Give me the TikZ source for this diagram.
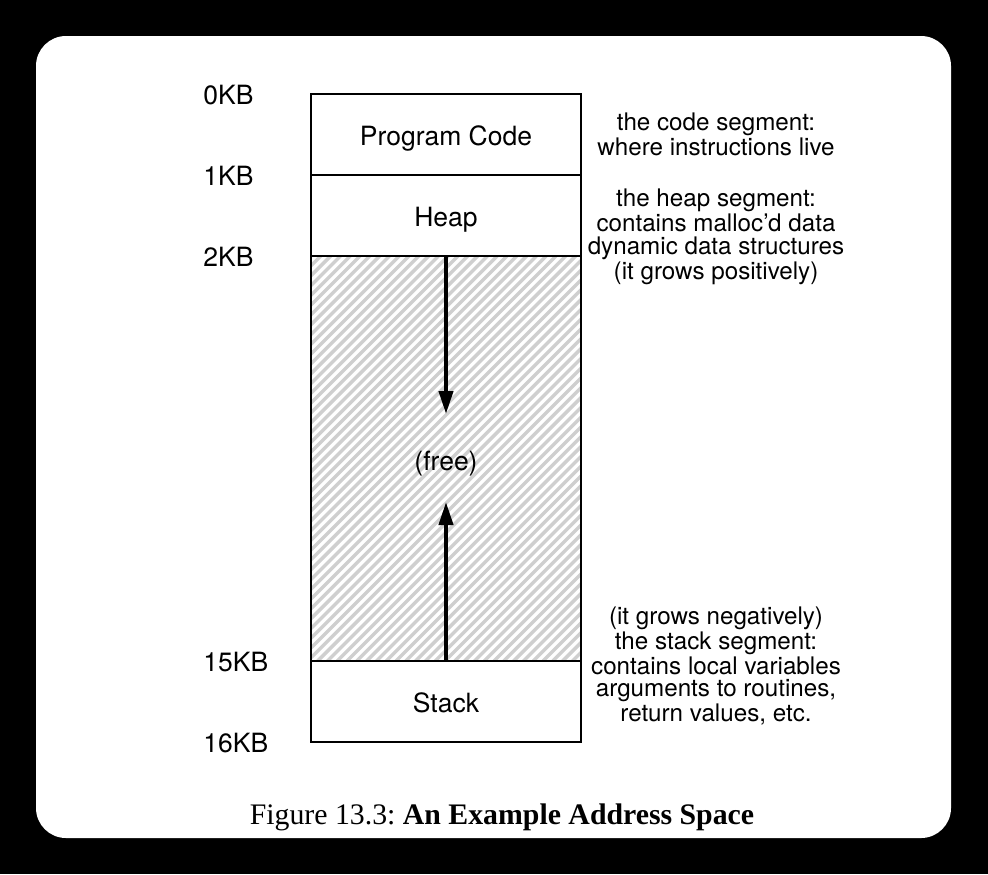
\documentclass[tikz,border=0pt]{standalone}
\usepackage{fontspec}
\setmainfont{Liberation Serif}
\newfontfamily\helv{TeX Gyre Heros}
\usetikzlibrary{arrows.meta}

\begin{document}
\frenchspacing
\begin{tikzpicture}[x=0.5pt,y=-0.5pt,
    addr/.style={anchor=west,inner sep=0pt,font=\helv\fontsize{13.25}{15}\selectfont},
    seg/.style={anchor=base,inner sep=0pt,font=\helv\fontsize{13.25}{15}\selectfont},
    note/.style={align=center,inner sep=0pt,font=\helv\fontsize{12.1}{11.3}\selectfont},
    growth/.style={line width=2pt,-{Triangle[length=11.5pt,width=7pt]}}]
    % Page and card
    \fill[black] (0,0) rectangle (988,874);
    \fill[white,rounded corners=15pt] (36,36) rectangle (951,838);

    % Hatching of the free space
    \begin{scope}
        \clip (311,256) rectangle (581,661);
        \foreach \c in {0,...,72}
            \draw[gray!38,line width=1.7pt] (-94+\c*9.8,661) -- (311+\c*9.8,256);
    \end{scope}

    % Define the segments of the address space
    \draw[line width=1.2pt] (311,94) rectangle (581,742);
    \draw[line width=1.3pt] (311,175) -- (581,175);
    \draw[line width=1.3pt] (311,256) -- (581,256);
    \draw[line width=1.3pt] (311,661) -- (581,661);

    \node[seg] (code) at (446,145) {Program Code};
    \node[seg] (heap) at (446,226) {Heap};
    \node[seg] (free) at (446,470) {(free)};
    \node[seg] (stack) at (446,712) {Stack};

    % Addresses
    \node[addr] (kb0) at (203,95) {0KB};
    \node[addr] (kb1) at (203,176) {1KB};
    \node[addr] (kb2) at (203,257) {2KB};
    \node[addr] (kb15) at (203,662) {15KB};
    \node[addr] (kb16) at (203,743) {16KB};

    % Notes on the right
    \node[note] (codenote) at (716,134) {the code segment:\\where instructions live};
    \node[note] (heapnote) at (716,237) {the heap segment:\\contains malloc’d data\\dynamic data structures\\(it grows positively)};
    \node[note] (stacknote) at (716,666) {(it grows negatively)\\the stack segment:\\contains local variables\\arguments to routines,\\return values, etc.};

    % Draw the growth arrows
    \coordinate (heapend) at (446,256);
    \coordinate (heaptip) at (446,414);
    \coordinate (stackend) at (446,661);
    \coordinate (stacktip) at (446,502);
    \draw[growth] (heapend) -- (heaptip);
    \draw[growth] (stackend) -- (stacktip);

    % Caption
    \node[anchor=base,inner sep=0pt,font=\fontsize{14.9}{18}\selectfont] (caption) at (502,824) {Figure 13.3: \textbf{An Example Address Space}};
\end{tikzpicture}
\end{document}
